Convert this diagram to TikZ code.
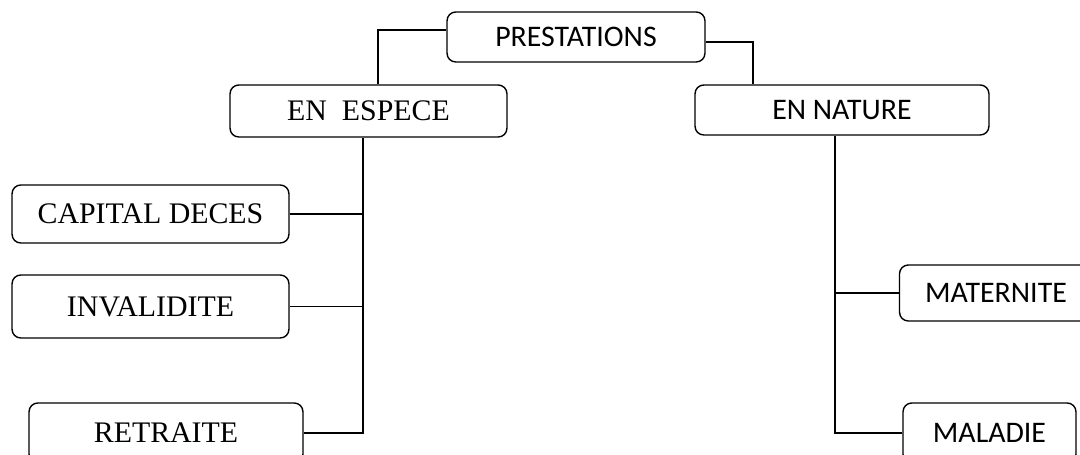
\documentclass[tikz,border=0pt]{standalone}
\usepackage{fontspec}
\setmainfont{Liberation Serif}
\newfontfamily\calibri{Carlito}
\usetikzlibrary{positioning}

\begin{document}
\begin{tikzpicture}[x=0.02cm, y=-0.02cm,
    box/.style={draw, rounded corners=5pt, line width=0.8pt, inner sep=0pt,
                align=center, font=\fontsize{17}{20}\selectfont},
    sbox/.style={box, font=\calibri\fontsize{17}{20}\selectfont},
    lnk/.style={line width=0.8pt}]
    \useasboundingbox (0,0) rectangle (1080,455);
    \clip (0,0) rectangle (1080,455);
    % top level
    \node[sbox, minimum width=5.16cm, minimum height=1.0cm] (prest) at (576,37) {PRESTATIONS};
    \node[box, minimum width=5.54cm, minimum height=1.04cm] (espece) at (368.5,111) {EN~~ESPECE};
    \node[sbox, minimum width=5.88cm, minimum height=1.0cm] (nature) at (842,110) {EN NATURE};
    % left branch
    \node[box, minimum width=5.54cm, minimum height=1.16cm] (capital) at (150.5,214) {CAPITAL DECES};
    \node[box, minimum width=5.54cm, minimum height=1.26cm] (invalid) at (150.5,306.5) {INVALIDITE};
    \node[box, minimum width=5.48cm, minimum height=1.2cm] (retraite) at (166,433) {RETRAITE};
    % right branch
    \node[sbox, minimum width=3.86cm, minimum height=1.12cm] (matern) at (996,293) {MATERNITE};
    \node[sbox, minimum width=3.46cm, minimum height=1.2cm] (maladie) at (989.5,433) {MALADIE};
    % links from the top box
    \draw[lnk] ([yshift=0.14cm]prest.west) -| ([xshift=0.19cm]espece.north);
    \draw[lnk] ([yshift=-0.1cm]prest.east) -| ([xshift=-1.78cm]nature.north);
    % trunks
    \coordinate (el) at ([xshift=-0.11cm]espece.south);
    \coordinate (nl) at ([xshift=-0.14cm]nature.south);
    \draw[lnk] (el) -- (el |- retraite.east) -- (retraite.east);
    \draw[lnk] (capital.east) -- (capital.east -| el);
    \draw[lnk] (invalid.east) -- (invalid.east -| el);
    \draw[lnk] (nl) -- (nl |- maladie.west) -- (maladie.west);
    \draw[lnk] (matern.west) -- (matern.west -| nl);
\end{tikzpicture}
\end{document}
